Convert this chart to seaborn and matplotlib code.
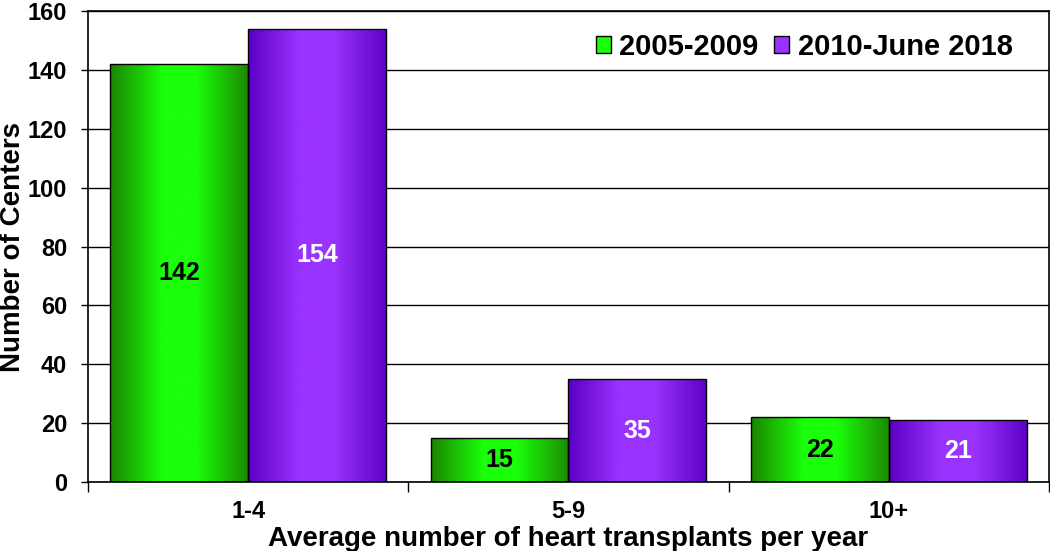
import numpy as np
import pandas as pd
import matplotlib
matplotlib.use("Agg")
import matplotlib.pyplot as plt
import seaborn as sns
from matplotlib.colors import to_rgb

# DATA
CATEGORIES = ["1-4", "5-9", "10+"]
PERIODS = ["2005-2009", "2010-June 2018"]
CENTERS_2005_2009 = [142, 15, 22]
CENTERS_2010_2018 = [154, 35, 21]

# colours: (dark edge, bright middle) for the gradient fill
GREEN_DARK, GREEN_BRIGHT = "#1c8400", "#1aff0a"
PURPLE_DARK, PURPLE_BRIGHT = "#5a00c4", "#9a33ff"
LABEL_COLORS = ["black", "white"]

df = pd.DataFrame(
    {
        "range": CATEGORIES * 2,
        "centers": CENTERS_2005_2009 + CENTERS_2010_2018,
        "period": [PERIODS[0]] * 3 + [PERIODS[1]] * 3,
    }
)

sns.set_theme(style="white")
plt.rcParams["font.family"] = ["Liberation Sans", "DejaVu Sans"]
plt.rcParams["font.weight"] = "bold"
for key in ["text.color", "axes.labelcolor", "xtick.color", "ytick.color"]:
    plt.rcParams[key] = "black"

fig = plt.figure(figsize=(10.5, 5.51), dpi=100)
ax = fig.add_axes([0.0838, 0.125, 0.9152, 0.855])

sns.barplot(
    data=df,
    x="range",
    y="centers",
    hue="period",
    palette=[GREEN_BRIGHT, PURPLE_BRIGHT],
    width=0.86,
    gap=0,
    edgecolor="black",
    linewidth=1,
    ax=ax,
)


# horizontal gradient dark -> bright -> dark, like the old office chart
def gradient(dark, bright, n=256):
    t = np.linspace(0, 1, n)
    prof = np.interp(t, [0, 0.38, 0.62, 1], [0, 1, 1, 0.05])
    d, b = np.array(to_rgb(dark)), np.array(to_rgb(bright))
    cols = d[None, :] + (b - d)[None, :] * prof[:, None]
    return cols[None, :, :]


grads = [gradient(GREEN_DARK, GREEN_BRIGHT), gradient(PURPLE_DARK, PURPLE_BRIGHT)]
for i, cont in enumerate(ax.containers):
    for bar in cont:
        x, y = bar.get_x(), bar.get_y()
        w, h = bar.get_width(), bar.get_height()
        im = ax.imshow(
            grads[i],
            extent=[x, x + w, y, y + h],
            aspect="auto",
            zorder=bar.get_zorder(),
            interpolation="bilinear",
        )
        im.set_clip_path(bar)
        bar.set_facecolor("none")
        bar.set_zorder(bar.get_zorder() + 0.1)
    ax.bar_label(
        cont,
        label_type="center",
        color=LABEL_COLORS[i],
        fontsize=18,
        fontweight="bold",
        zorder=5,
    )

ax.set_xlim(-0.5, 2.5)
ax.set_ylim(0, 160)
ax.set_yticks(np.arange(0, 161, 20))
ax.yaxis.grid(True, color="black", linewidth=1)
ax.set_axisbelow(True)

for s in ax.spines.values():
    s.set_color("black")
    s.set_linewidth(1.2)

ax.tick_params(axis="y", direction="out", length=5, width=1, pad=10,
               labelsize=17, left=True)
ax.set_xticks([0, 1, 2])
ax.set_xticks([-0.5, 0.5, 1.5, 2.5], minor=True)
ax.tick_params(axis="x", which="major", length=0, pad=13, labelsize=17)
ax.tick_params(axis="x", which="minor", direction="out", length=7, width=1,
               bottom=True, color="black")
for lab in ax.get_xticklabels() + ax.get_yticklabels():
    lab.set_fontweight("bold")

ax.set_xlabel("Average number of heart transplants per year",
              fontsize=20, fontweight="bold", labelpad=2)
ax.set_ylabel("Number of Centers", fontsize=20, fontweight="bold")
ax.yaxis.set_label_coords(-0.064, 0.5)

handles, labels = ax.get_legend_handles_labels()
for hnd, c in zip(handles, [GREEN_BRIGHT, PURPLE_BRIGHT]):
    hnd.set_facecolor(c)
    hnd.set_edgecolor("black")
ax.legend(
    handles,
    labels,
    loc="upper right",
    bbox_to_anchor=(0.962, 0.954),
    borderaxespad=0,
    borderpad=0,
    ncol=2,
    frameon=False,
    handlelength=0.52,
    handleheight=0.52,
    handletextpad=0.28,
    columnspacing=0.55,
    prop={"weight": "bold", "size": 21},
)

fig.savefig("out.png", dpi=100)
